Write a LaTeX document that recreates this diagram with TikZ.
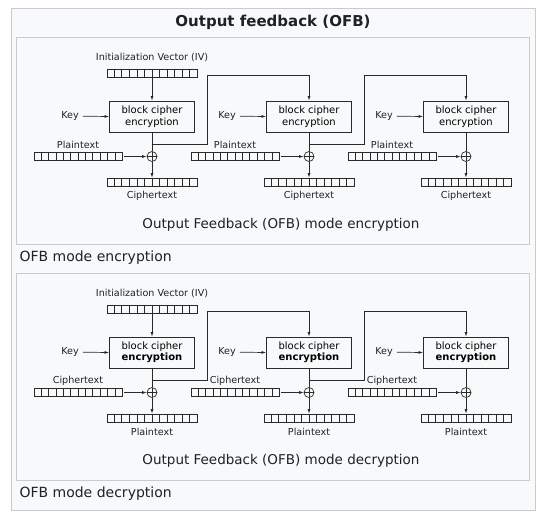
\documentclass[tikz,border=0pt]{standalone}
\usepackage{fontspec}
\setmainfont{DejaVu Sans}
\usetikzlibrary{arrows.meta,calc}
\definecolor{frameback}{HTML}{F8F9FA}
\definecolor{frameline}{HTML}{C8CCD1}
\definecolor{ink}{HTML}{202122}
\definecolor{wire}{HTML}{2A2A2A}

\tikzset{
  cipherbox/.style = {draw=wire, line width=0.9pt, minimum width=85pt, minimum height=31pt,
                      inner sep=0pt, align=center, font=\fontsize{10}{11.5}\selectfont},
  register/.style  = {draw=wire, line width=0.7pt, minimum width=90pt, minimum height=8pt, inner sep=0pt},
  inreg/.style     = {register, minimum width=88pt},
  tag/.style       = {font=\fontsize{9.6}{11}\selectfont, inner sep=0pt, text=ink},
  xorgate/.style   = {circle, draw=wire, line width=0.7pt, minimum size=10pt, inner sep=0pt,
                      path picture={\draw[wire, line width=0.7pt]
                        (path picture bounding box.north) -- (path picture bounding box.south)
                        (path picture bounding box.west) -- (path picture bounding box.east);}},
  wireline/.style  = {draw=wire, line width=0.7pt},
  feed/.style      = {wireline, -{Latex[length=4.5pt,width=3pt]}},
  panel/.style     = {draw=frameline, fill=frameback, line width=0.8pt},
}

% the eleven dividers of a 12 cell register
\newcommand\regcells[1]{%
  \foreach \k in {1,...,11}
    \draw[wire, line width=0.6pt] ($(#1.north west)!\k/12!(#1.north east)$) -- ($(#1.south west)!\k/12!(#1.south east)$);}

\begin{document}
\begin{tikzpicture}[x=1pt, y=-1pt]
  \useasboundingbox (0,0) rectangle (543,517);
  \draw[panel] (11,8) rectangle (535,510);
  \node[font=\fontsize{15}{17}\selectfont\bfseries, text=ink] (title) at (273,22) {Output feedback (OFB)};

  \foreach \p/\dy/\inp/\outp/\mode/\boxword in
    {e/0/Plaintext/Ciphertext/encryption/encryption,
     d/236/Ciphertext/Plaintext/decryption/{\bfseries encryption}} {
    \draw[panel] (16,37+\dy) rectangle (529,244+\dy);
    \node[font=\fontsize{13.5}{15}\selectfont, text=ink] (mode\p) at (281,225+\dy) {Output Feedback (OFB) mode \mode};
    \node[font=\fontsize{14}{16}\selectfont, text=ink, anchor=west] (caption\p) at (16,258+\dy) {OFB mode \mode};

    % initialization vector
    \node[tag] (ivtag\p) at (152,57+\dy) {Initialization Vector (IV)};
    \node[register] (iv\p) at (152,73+\dy) {};
    \regcells{iv\p}

    \foreach \s in {0,1,2} {
      \pgfmathsetmacro\cx{152+157*\s}
      \node[cipherbox] (box\p\s) at (\cx,116.5+\dy) {block cipher\\\boxword};
      \node[tag] (key\p\s) at (\cx-82,116+\dy) {Key};
      \draw[feed, shorten <=4pt] (key\p\s) -- (box\p\s.west);
      \node[xorgate] (xor\p\s) at (\cx,156.5+\dy) {};
      \node[inreg] (in\p\s) at (\cx-74,156.5+\dy) {};
      \regcells{in\p\s}
      \node[tag] (intag\p\s) at (\cx-74,145+\dy) {\inp};
      \node[register] (out\p\s) at (\cx,182+\dy) {};
      \regcells{out\p\s}
      \node[tag] (outtag\p\s) at (\cx,196+\dy) {\outp};
      \draw[wireline] (box\p\s) -- (xor\p\s);
      \draw[feed, shorten <=2pt] (in\p\s) -- (xor\p\s);
      \draw[feed] (xor\p\s) -- (out\p\s);
    }
    \draw[feed] (iv\p) -- (box\p0);

    % output fed into the next block
    \foreach \s/\n in {0/1,1/2} {
      \pgfmathsetmacro\cx{152+157*\s}
      \coordinate (tap\p\s) at (\cx,144+\dy);
      \coordinate (turn\p\s) at (\cx+55,75+\dy);
      \draw[feed] (tap\p\s) -| (turn\p\s) -| (box\p\n.north);
    }
  }
\end{tikzpicture}
\end{document}
